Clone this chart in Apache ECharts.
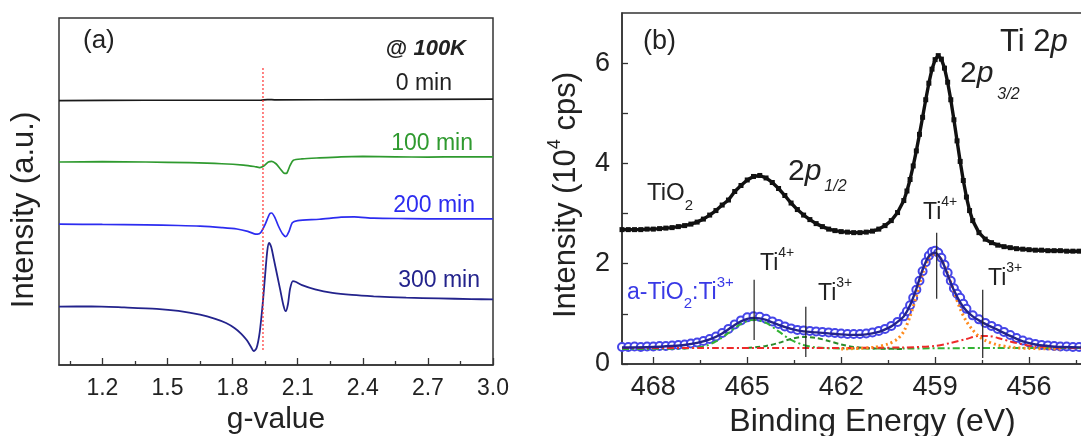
<!DOCTYPE html>
<html>
<head>
<meta charset="utf-8">
<script src="https://cdn.jsdelivr.net/npm/echarts@6/dist/echarts.min.js"></script>
<style>
  html, body { margin: 0; padding: 0; background: #fff; }
  #chart { width: 1081px; height: 436px; }
</style>
</head>
<body>
<div id="chart"></div>
<script>
// ---------- axis ticks ----------
const gTicksMajor = [1.2, 1.5, 1.8, 2.1, 2.4, 2.7, 3.0];
const gTicksMinor = [1.05, 1.35, 1.65, 1.95, 2.25, 2.55, 2.85];
const beTicksMajor = [468, 465, 462, 459, 456];
const beTicksMinor = [466.5, 463.5, 460.5, 457.5, 454.5];
const cpsTicksMajor = [0, 2, 4, 6];
const cpsTicksAll = [0, 1, 2, 3, 4, 5, 6];

// ---------- (a) EPR spectra at 100 K, [g, intensity (a.u., offset)] ----------
const esr0min = [[1.00,7.62],[1.40,7.63],[1.80,7.63],[1.93,7.63],[1.96,7.65],[2.00,7.64],[2.40,7.65],[3.00,7.66]];
const esr100min = [[1.00,5.85],[1.20,5.86],[1.40,5.85],[1.60,5.83],[1.75,5.80],[1.85,5.76],[1.90,5.72],[1.925,5.69],
  [1.945,5.74],[1.965,5.85],[1.98,5.87],[2.00,5.80],[2.02,5.65],[2.04,5.52],[2.05,5.53],[2.065,5.75],[2.08,5.90],
  [2.12,5.94],[2.20,5.97],[2.30,6.00],[2.40,6.01],[2.55,6.00],[2.70,5.99],[2.85,6.00],[3.00,6.00]];
const esr200min = [[1.00,4.06],[1.20,4.05],[1.40,4.04],[1.55,4.02],[1.65,4.00],[1.75,3.96],[1.82,3.92],[1.87,3.85],
  [1.90,3.78],[1.915,3.77],[1.93,3.82],[1.95,4.05],[1.97,4.35],[1.98,4.38],[1.995,4.25],[2.01,4.02],[2.03,3.78],
  [2.045,3.70],[2.06,3.85],[2.075,4.10],[2.10,4.16],[2.20,4.20],[2.30,4.26],[2.36,4.27],[2.45,4.23],[2.60,4.22],
  [2.80,4.21],[3.00,4.21]];
const esr300min = [[1.00,1.68],[1.15,1.69],[1.30,1.66],[1.45,1.62],[1.55,1.56],[1.65,1.45],[1.72,1.33],[1.77,1.21],
  [1.81,1.06],[1.84,0.90],[1.865,0.72],[1.885,0.52],[1.897,0.40],[1.91,0.48],[1.925,0.95],[1.94,1.85],[1.95,2.60],
  [1.96,3.30],[1.968,3.52],[1.978,3.40],[1.99,3.05],[2.005,2.60],[2.02,2.15],[2.035,1.70],[2.045,1.55],[2.055,1.75],
  [2.065,2.20],[2.078,2.42],[2.09,2.40],[2.12,2.30],[2.18,2.18],[2.26,2.08],[2.35,2.02],[2.45,1.98],[2.60,1.94],
  [2.75,1.92],[2.90,1.90],[3.00,1.89]];
const gMarker = [[1.94, 0.43], [1.94, 8.56]];

// ---------- (b) Ti 2p XPS, [binding energy (eV), intensity (10^4 cps)] ----------
const tio2 = [[469.0,2.68],[468.8,2.68],[468.6,2.68],[468.4,2.68],[468.2,2.69],[468.0,2.69],[467.8,2.70],[467.6,2.71],
  [467.4,2.72],[467.2,2.74],[467.0,2.76],[466.8,2.79],[466.6,2.83],[466.4,2.89],[466.2,2.97],[466.0,3.06],[465.8,3.17],
  [465.6,3.27],[465.4,3.44],[465.2,3.56],[465.0,3.67],[464.8,3.74],[464.6,3.76],[464.4,3.71],[464.2,3.62],[464.0,3.50],
  [463.8,3.36],[463.6,3.21],[463.4,3.08],[463.2,2.97],[463.0,2.88],[462.8,2.80],[462.6,2.74],[462.4,2.69],[462.2,2.66],
  [462.0,2.64],[461.8,2.63],[461.6,2.62],[461.4,2.62],[461.2,2.63],[461.0,2.65],[460.8,2.69],[460.6,2.76],[460.4,2.86],
  [460.2,3.02],[460.0,3.26],[459.9,3.45],[459.8,3.68],[459.7,3.95],[459.6,4.25],[459.5,4.58],[459.4,4.92],[459.3,5.27],
  [459.2,5.60],[459.1,5.88],[459.0,6.07],[458.9,6.15],[458.8,6.08],[458.7,5.90],[458.6,5.62],[458.5,5.27],[458.4,4.87],
  [458.3,4.45],[458.2,4.04],[458.1,3.66],[458.0,3.33],[457.9,3.06],[457.8,2.86],[457.6,2.62],[457.4,2.49],[457.2,2.42],
  [457.0,2.37],[456.8,2.34],[456.6,2.32],[456.4,2.30],[456.2,2.29],[456.0,2.28],[455.8,2.27],[455.6,2.27],[455.4,2.26],
  [455.2,2.26],[455.0,2.26],[454.8,2.25],[454.6,2.25],[454.4,2.25],[454.2,2.25],[454.0,2.25],[453.8,2.25],[453.6,2.25],
  [453.4,2.25],[453.2,2.25],[453.0,2.25]];

const aTio2Data = [[469.0,0.34],[468.8,0.34],[468.6,0.35],[468.4,0.34],[468.2,0.35],[468.0,0.35],[467.8,0.36],[467.6,0.36],
  [467.4,0.37],[467.2,0.38],[467.0,0.39],[466.8,0.41],[466.6,0.43],[466.4,0.46],[466.2,0.50],[466.0,0.55],[465.8,0.62],
  [465.6,0.70],[465.4,0.79],[465.2,0.87],[465.0,0.93],[464.8,0.95],[464.6,0.94],[464.4,0.90],[464.2,0.85],[464.0,0.80],
  [463.8,0.75],[463.6,0.71],[463.4,0.68],[463.2,0.67],[463.0,0.66],[462.8,0.65],[462.6,0.64],[462.4,0.63],[462.2,0.62],
  [462.0,0.61],[461.8,0.60],[461.6,0.60],[461.4,0.60],[461.2,0.61],[461.0,0.63],[460.8,0.66],[460.6,0.70],[460.4,0.76],
  [460.2,0.84],[460.0,0.95],[459.9,1.05],[459.8,1.17],[459.7,1.32],[459.6,1.48],[459.5,1.66],[459.4,1.85],[459.3,2.03],
  [459.2,2.16],[459.1,2.24],[459.0,2.26],[458.9,2.22],[458.8,2.12],[458.7,1.98],[458.6,1.82],[458.5,1.66],[458.4,1.51],
  [458.3,1.40],[458.2,1.32],[458.1,1.20],[458.0,1.10],[457.8,0.97],[457.6,0.89],[457.4,0.82],[457.2,0.76],[457.0,0.70],
  [456.8,0.64],[456.6,0.58],[456.4,0.52],[456.2,0.47],[456.0,0.43],[455.8,0.40],[455.6,0.38],[455.4,0.37],[455.2,0.36],
  [455.0,0.35],[454.8,0.35],[454.6,0.34],[454.4,0.34],[454.2,0.34],[454.0,0.34],[453.8,0.34],[453.6,0.34],[453.4,0.34],
  [453.2,0.34],[453.0,0.34]];

const aTio2Fit = [[469.0,0.33],[468.0,0.34],[467.4,0.36],[467.0,0.38],[466.6,0.42],[466.2,0.49],[465.8,0.61],[465.4,0.78],
  [465.2,0.85],[465.0,0.90],[464.8,0.92],[464.6,0.91],[464.4,0.88],[464.2,0.83],[464.0,0.78],[463.6,0.70],[463.2,0.65],
  [462.8,0.63],[462.4,0.61],[462.0,0.59],[461.6,0.58],[461.2,0.59],[460.8,0.64],[460.6,0.69],[460.4,0.75],[460.2,0.84],
  [460.0,0.95],[459.8,1.17],[459.6,1.50],[459.4,1.88],[459.2,2.15],[459.0,2.22],[458.8,2.08],[458.6,1.78],[458.4,1.47],
  [458.2,1.23],[458.0,1.06],[457.8,0.95],[457.6,0.87],[457.4,0.80],[457.0,0.68],[456.6,0.56],[456.2,0.45],[455.8,0.39],
  [455.4,0.36],[455.0,0.34],[454.0,0.33],[453.0,0.33]];

// fitted components
const ti4p12 = [[469.0,0.30],[467.0,0.31],[466.4,0.35],[466.0,0.45],[465.6,0.62],[465.2,0.80],[464.8,0.88],[464.4,0.82],
  [464.0,0.65],[463.6,0.48],[463.2,0.38],[462.8,0.33],[462.0,0.31],[460.0,0.31],[457.0,0.32],[453.0,0.32]];
const ti3p12 = [[465.0,0.32],[464.4,0.36],[464.0,0.42],[463.6,0.50],[463.2,0.54],[462.8,0.52],[462.4,0.46],[462.0,0.39],
  [461.6,0.34],[461.0,0.31],[460.0,0.30]];
const ti4p32 = [[462.0,0.30],[461.0,0.33],[460.5,0.40],[460.2,0.50],[460.0,0.65],[459.8,0.95],[459.6,1.35],[459.4,1.80],
  [459.2,2.10],[459.0,2.20],[458.8,2.08],[458.6,1.80],[458.4,1.45],[458.2,1.10],[458.0,0.85],[457.8,0.68],[457.6,0.55],
  [457.4,0.47],[457.0,0.38],[456.5,0.33],[456.0,0.31],[455.0,0.30]];
const ti3p32 = [[469.0,0.32],[466.0,0.32],[463.0,0.32],[460.0,0.33],[459.0,0.36],[458.5,0.42],[458.0,0.50],[457.6,0.56],
  [457.3,0.56],[457.0,0.52],[456.6,0.45],[456.2,0.39],[455.8,0.35],[455.0,0.32],[453.0,0.31]];

// peak position markers: [binding energy, lower, upper]
const peakMarks = [[464.78, 0.48, 1.68], [463.13, 0.14, 1.14], [458.95, 1.30, 2.62], [457.48, 0.12, 1.48]];

// ---------- styling ----------
const FONT = '"Liberation Sans", Arial, Helvetica, sans-serif';
const INK = '#222';
const GREEN = '#2f9a2f';
const BLUE = '#2c2cf0';
const NAVY = '#23238c';
const CIRCLE = '#4545e8';

const chart = echarts.init(document.getElementById('chart'), null, { renderer: 'canvas' });

function lineSeries(data, xi, yi, color, width, type, extra) {
  return Object.assign({
    type: 'line', data: data, xAxisIndex: xi, yAxisIndex: yi,
    showSymbol: false, symbol: 'none', animation: false, silent: true,
    lineStyle: { color: color, width: width, type: type || 'solid' },
    itemStyle: { color: color }
  }, extra || {});
}

const series = [
  lineSeries(esr0min, 0, 0, '#1a1a1a', 1.7, 'solid', { smooth: 0.2 }),
  lineSeries(esr100min, 0, 0, GREEN, 1.7, 'solid', { smooth: 0.25 }),
  lineSeries(esr200min, 0, 0, BLUE, 1.7, 'solid', { smooth: 0.25 }),
  lineSeries(esr300min, 0, 0, NAVY, 1.8, 'solid', { smooth: 0.25 }),
  lineSeries(gMarker, 0, 0, '#ff3030', 1.2, [2, 2]),

  lineSeries(tio2, 2, 1, '#111', 3.4, 'solid', {
    showSymbol: true, symbol: 'rect', symbolSize: 5
  }),
  {
    type: 'scatter', data: aTio2Data, xAxisIndex: 2, yAxisIndex: 1, animation: false, silent: true,
    symbol: 'emptyCircle', symbolSize: 8, z: 2,
    itemStyle: { color: CIRCLE, borderColor: CIRCLE, borderWidth: 1.6, opacity: 1 }
  },
  lineSeries(ti4p12, 2, 1, '#33b233', 2, [7, 3, 2, 3], { smooth: 0.3, z: 3 }),
  lineSeries(ti3p12, 2, 1, '#2b8a2b', 2, [5, 3], { smooth: 0.3, z: 3 }),
  lineSeries(ti3p32, 2, 1, '#ee2a2a', 2, [7, 3, 2, 3], { smooth: 0.3, z: 3 }),
  lineSeries(ti4p32, 2, 1, '#ff8a1c', 3, [2, 3], { smooth: 0.3, z: 3 }),
  lineSeries(aTio2Fit, 2, 1, NAVY, 2.4, 'solid', { smooth: 0.3, z: 4 })
];
peakMarks.forEach(function (m) {
  series.push(lineSeries([[m[0], m[1]], [m[0], m[2]]], 2, 1, '#222', 1.2, 'solid', { z: 5 }));
});

function tickAxis(gridIndex, min, max, inverse, values, len, labelSize, labelMargin, fmt, name, nameGap, nameSize) {
  return {
    type: 'value', gridIndex: gridIndex, min: min, max: max, inverse: inverse, position: 'bottom',
    axisLine: { show: labelSize > 0, onZero: false, lineStyle: { color: '#333', width: 1.5 } },
    axisTick: { show: true, inside: true, length: len, customValues: values, lineStyle: { color: '#333', width: 1.3 } },
    axisLabel: labelSize > 0 ? {
      show: true, customValues: values, margin: labelMargin, color: INK, fontSize: labelSize, fontFamily: FONT,
      formatter: fmt
    } : { show: false },
    splitLine: { show: false },
    name: name || '', nameLocation: 'middle', nameGap: nameGap || 0,
    nameTextStyle: { color: INK, fontSize: nameSize || 12, fontFamily: FONT }
  };
}

const option = {
  animation: false,
  backgroundColor: '#fff',
  grid: [
    { left: 59, top: 18, width: 434, height: 347, show: true, borderColor: '#333', borderWidth: 1.5,
      backgroundColor: 'transparent', outerBoundsMode: 'none', containLabel: false },
    { left: 622, top: 13, width: 501, height: 351, show: true, borderColor: '#333', borderWidth: 1.5,
      backgroundColor: 'transparent', outerBoundsMode: 'none', containLabel: false }
  ],
  xAxis: [
    tickAxis(0, 1.0, 3.0, false, gTicksMajor, 7, 23, 12, function (v) { return v.toFixed(1); }, 'g-value', 37, 30),
    tickAxis(0, 1.0, 3.0, false, gTicksMinor, 4, 0),
    tickAxis(1, 453, 469, true, beTicksMajor, 7, 27, 10, function (v) { return String(Math.round(v)); }, 'Binding Energy (eV)', 35, 32),
    tickAxis(1, 453, 469, true, beTicksMinor, 4, 0)
  ],
  yAxis: [
    { type: 'value', gridIndex: 0, min: 0, max: 10, axisLine: { show: false }, axisTick: { show: false },
      axisLabel: { show: false }, splitLine: { show: false } },
    { type: 'value', gridIndex: 1, min: 0, max: 7,
      axisLine: { show: true, onZero: false, lineStyle: { color: '#333', width: 1.5 } },
      axisTick: { show: true, inside: true, length: 6, customValues: cpsTicksAll, lineStyle: { color: '#333', width: 1.3 } },
      axisLabel: { show: true, customValues: cpsTicksMajor, margin: 12, color: INK, fontSize: 27, fontFamily: FONT },
      splitLine: { show: false } }
  ],
  series: series,
  graphic: []
};

// ---------- text annotations ----------
function plain(x, y, text, size, color, align, rotation) {
  return {
    type: 'text', x: x, y: y, silent: true, z: 100, rotation: rotation || 0,
    style: { text: text, fill: color || INK, fontSize: size, fontFamily: FONT,
      align: align || 'left', verticalAlign: 'middle' }
  };
}
function rich(x, y, text, richStyles, align, rotation) {
  const r = {};
  Object.keys(richStyles).forEach(function (k) {
    r[k] = Object.assign({ fontFamily: FONT, fill: INK }, richStyles[k]);
  });
  return {
    type: 'text', x: x, y: y, silent: true, z: 100, rotation: rotation || 0,
    style: { text: text, rich: r, align: align || 'left', verticalAlign: 'middle' }
  };
}
function ionLabel(x, y, charge, size) {
  return rich(x, y, '{m|Ti}{s|' + charge + '}', {
    m: { fontSize: size, lineHeight: 35 },
    s: { fontSize: 14, lineHeight: 14, verticalAlign: 'top' }
  });
}

option.graphic = [
  // panel (a)
  plain(83, 41, '(a)', 26),
  rich(466, 49, '{a|@ }{b|100K}', {
    a: { fontSize: 22, fontWeight: 'bold' },
    b: { fontSize: 22, fontWeight: 'bold', fontStyle: 'italic' }
  }, 'right'),
  plain(452, 84, '0 min', 23, INK, 'right'),
  plain(473, 144, '100 min', 23, GREEN, 'right'),
  plain(475, 206, '200 min', 23, BLUE, 'right'),
  plain(480, 281, '300 min', 23, NAVY, 'right'),
  plain(24, 210, 'Intensity (a.u.)', 31, INK, 'center', Math.PI / 2),
  // panel (b)
  plain(643, 42, '(b)', 27),
  rich(1000, 42, '{m|Ti 2}{i|p}', {
    m: { fontSize: 31 }, i: { fontSize: 31, fontStyle: 'italic' }
  }),
  rich(960, 74, '{m|2}{i|p}{s|3/2}', {
    m: { fontSize: 30, lineHeight: 58 }, i: { fontSize: 30, fontStyle: 'italic', lineHeight: 58 },
    s: { fontSize: 16, fontStyle: 'italic', lineHeight: 16, verticalAlign: 'bottom', padding: [0, 0, 0, 4] }
  }),
  rich(788, 172, '{m|2}{i|p}{s|1/2}', {
    m: { fontSize: 30, lineHeight: 46 }, i: { fontSize: 30, fontStyle: 'italic', lineHeight: 46 },
    s: { fontSize: 16, fontStyle: 'italic', lineHeight: 16, verticalAlign: 'bottom', padding: [0, 0, 0, 3] }
  }),
  rich(647, 193, '{m|TiO}{s|2}', {
    m: { fontSize: 24, lineHeight: 41 }, s: { fontSize: 15, lineHeight: 15, verticalAlign: 'bottom' }
  }),
  ionLabel(923, 213, '4+', 23),
  ionLabel(760, 264, '4+', 23),
  ionLabel(818, 294, '3+', 23),
  ionLabel(988, 279, '3+', 23),
  rich(627, 293, '{m|a-TiO}{b|2}{m|:Ti}{s|3+}', {
    m: { fontSize: 23, lineHeight: 36, fill: '#3a3ae6' },
    b: { fontSize: 15, lineHeight: 15, verticalAlign: 'bottom', fill: '#3a3ae6' },
    s: { fontSize: 15, lineHeight: 15, verticalAlign: 'top', fill: '#3a3ae6' }
  }),
  rich(566, 195, '{m|Intensity (10}{s|4}{m| cps)}', {
    m: { fontSize: 31, lineHeight: 40 }, s: { fontSize: 18, lineHeight: 18, verticalAlign: 'top' }
  }, 'center', Math.PI / 2)
];

chart.setOption(option);
</script>
</body>
</html>
